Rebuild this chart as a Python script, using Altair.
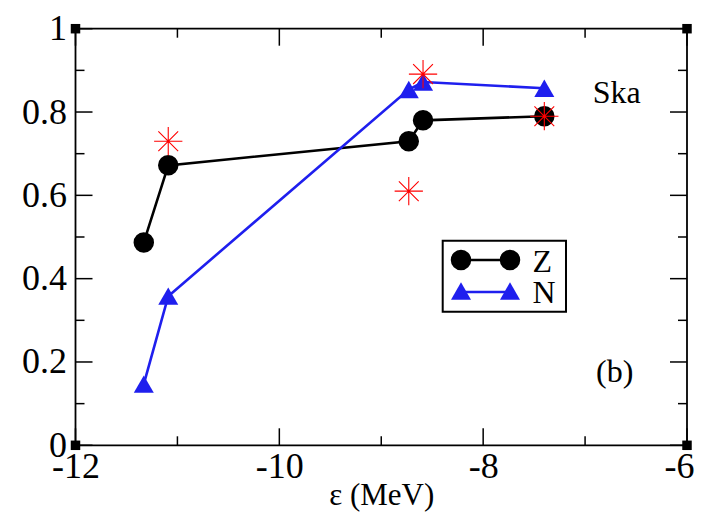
import altair as alt
import pandas as pd

# ---- data ----
eps = [-11.33, -11.09, -8.73, -8.59, -7.40]
z_vals = [0.487, 0.672, 0.730, 0.780, 0.790]
n_vals = [0.147, 0.358, 0.854, 0.872, 0.857]
star_eps = [-11.09, -8.73, -8.59, -7.40]
star_vals = [0.730, 0.610, 0.891, 0.790]

x_major = [-12, -10, -8, -6]
x_minor = [-11, -9, -7]
y_major = [0, 0.2, 0.4, 0.6, 0.8, 1.0]
y_minor = [0.1, 0.3, 0.5, 0.7, 0.9]

annot_text = ["Ska", "(b)"]
annot_x = [-6.69, -6.71]
annot_y = [0.821, 0.153]

W, H = 611.5, 416.6
FONT = "Liberation Serif, Times New Roman, serif"
BLUE = "#1f1fee"

z_df = pd.DataFrame({"eps": eps, "v": z_vals})
n_df = pd.DataFrame({"eps": eps, "v": n_vals})
s_df = pd.DataFrame({"eps": star_eps, "v": star_vals})
xmaj_df = pd.DataFrame({"eps": x_major})
xmin_df = pd.DataFrame({"eps": x_minor})
ymaj_df = pd.DataFrame({"v": y_major})
ymin_df = pd.DataFrame({"v": y_minor})
ann_df = pd.DataFrame({"txt": annot_text, "eps": annot_x, "v": annot_y})
corner_df = pd.DataFrame({"eps": [x_major[0], x_major[-1], x_major[0], x_major[-1]],
                          "v": [y_major[0], y_major[0], y_major[-1], y_major[-1]]})

xs = alt.Scale(domain=[-12, -6], nice=False, zero=False)
ys = alt.Scale(domain=[0, 1], nice=False, zero=False)

x_axis = alt.Axis(values=x_major, labelExpr="datum.value + ''", ticks=False, tickSize=0,
                  domain=False, grid=False, labelFont=FONT, labelFontSize=36,
                  labelPadding=4, labelColor="black", title="ε (MeV)", titleFont=FONT,
                  titleFontSize=31, titleFontWeight="normal", titleColor="black",
                  titleBaseline="alphabetic", titleY=59, labelFlush=False,
                  labelOffset={"condition": {"test": "datum.value == -6", "value": -8},
                               "value": 0})
y_axis = alt.Axis(values=y_major, format="~g", ticks=False, tickSize=0, domain=False,
                  grid=False, labelFont=FONT, labelFontSize=36, labelPadding=9,
                  labelColor="black", title=None, labelFlush=False)

X = alt.X("eps:Q", scale=xs, axis=x_axis)
Y = alt.Y("v:Q", scale=ys, axis=y_axis)

z_layer = alt.Chart(z_df).mark_line(
    color="black", strokeWidth=2.6,
    point=alt.OverlayMarkDef(shape="circle", size=420, filled=True, color="black", opacity=1)
).encode(x=X, y=Y)

n_layer = alt.Chart(n_df).mark_line(
    color=BLUE, strokeWidth=2.6,
    point=alt.OverlayMarkDef(shape="triangle-up", size=400, filled=True, color=BLUE, opacity=1)
).encode(x=X, y=Y)

STAR = "M-1,0L1,0M0,-1L0,1M-0.7,-0.7L0.7,0.7M-0.7,0.7L0.7,-0.7"
star_layer = alt.Chart(s_df).mark_point(
    shape=STAR, size=800, filled=False, stroke="red", strokeWidth=1.1, opacity=1
).encode(x=X, y=Y)

# inward ticks on all four sides
tw = 1.5
ticks = []
for df, L in [(xmaj_df, 17), (xmin_df, 9)]:
    ticks.append(alt.Chart(df).mark_rule(color="black", strokeWidth=tw).encode(
        x=X, y=alt.value(H), y2=alt.value(H - L)))
    ticks.append(alt.Chart(df).mark_rule(color="black", strokeWidth=tw).encode(
        x=X, y=alt.value(0), y2=alt.value(L)))
for df, L in [(ymaj_df, 17), (ymin_df, 9)]:
    ticks.append(alt.Chart(df).mark_rule(color="black", strokeWidth=tw).encode(
        y=Y, x=alt.value(0), x2=alt.value(L)))
    ticks.append(alt.Chart(df).mark_rule(color="black", strokeWidth=tw).encode(
        y=Y, x=alt.value(W), x2=alt.value(W - L)))

corners = alt.Chart(corner_df).mark_square(size=90, color="black", opacity=1).encode(
    x=X, y=Y)

ann = alt.Chart(ann_df).mark_text(font=FONT, fontSize=32, color="black",
                                  align="center", baseline="alphabetic").encode(
    x=X, y=Y, text="txt:N")

# legend box (pixel layout)
leg_df = pd.DataFrame({"k": [0]})
lx0, lx1, ly0, ly1 = 367.2, 490.5, 212.0, 283.0
r1, r2 = 231.3, 263.3
m1, m2, tx = 385.5, 434.5, 457.0
legend = [
    alt.Chart(leg_df).mark_rect(fill="white", stroke="black", strokeWidth=2).encode(
        x=alt.value(lx0), x2=alt.value(lx1), y=alt.value(ly0), y2=alt.value(ly1)),
    alt.Chart(leg_df).mark_rule(color="black", strokeWidth=2.6).encode(
        x=alt.value(m1), x2=alt.value(m2), y=alt.value(r1)),
    alt.Chart(leg_df).mark_rule(color=BLUE, strokeWidth=2.6).encode(
        x=alt.value(m1), x2=alt.value(m2), y=alt.value(r2)),
]
for mx in (m1, m2):
    legend.append(alt.Chart(leg_df).mark_point(shape="circle", size=420, filled=True,
                                               color="black", opacity=1).encode(
        x=alt.value(mx), y=alt.value(r1)))
    legend.append(alt.Chart(leg_df).mark_point(shape="triangle-up", size=400, filled=True,
                                               color=BLUE, opacity=1).encode(
        x=alt.value(mx), y=alt.value(r2 - 1)))
legend.append(alt.Chart(pd.DataFrame({"t": ["Z"]})).mark_text(
    font=FONT, fontSize=32, color="black", align="left", baseline="alphabetic").encode(
    x=alt.value(tx), y=alt.value(243.0), text="t:N"))
legend.append(alt.Chart(pd.DataFrame({"t": ["N"]})).mark_text(
    font=FONT, fontSize=32, color="black", align="left", baseline="alphabetic").encode(
    x=alt.value(tx), y=alt.value(274.6), text="t:N"))

chart = alt.layer(z_layer, n_layer, star_layer, *ticks, corners, ann, *legend).properties(
    width=W, height=H,
    autosize=alt.AutoSizeParams(type="none"),
    padding={"left": 67.5, "top": 20.7, "right": 11, "bottom": 68},
    background="white",
).configure_view(stroke="black", strokeWidth=1.8)

chart.save("out.html", embed_options={"renderer": "svg", "actions": False})
